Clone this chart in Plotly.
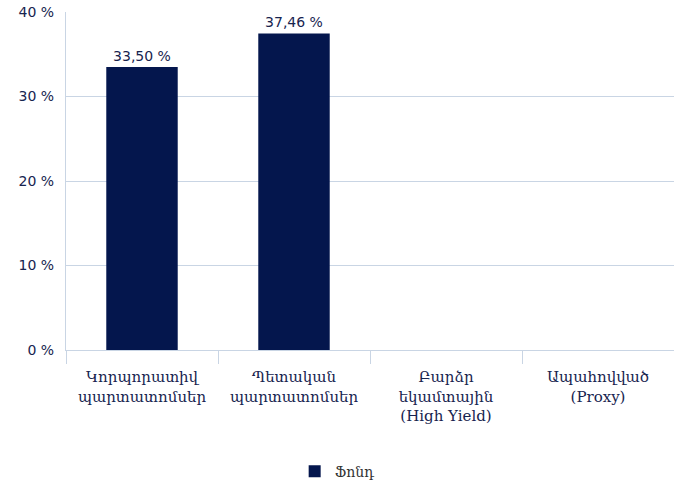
import plotly.graph_objects as go

categories = ["Կորպորատիվ<br>պարտատոմսեր", "Պետական<br>պարտատոմսեր",
              "Բարձր<br>եկամտային<br>(High Yield)", "Ապահովված<br>(Proxy)"]
values = [33.50, 37.46, None, None]
series_name = "Ֆոնդ"
y_ticks = [0, 10, 20, 30, 40]
y_tick_labels = ["0 %", "10 %", "20 %", "30 %", "40 %"]

labels = [("%.2f %%" % v).replace(".", ",") if v is not None else "" for v in values]

navy = "#04164d"
grid = "#c9d5e4"
txt = "#17244f"

fig = go.Figure()
fig.add_trace(go.Bar(
    x=categories, y=values, name=series_name,
    marker=dict(color=navy, line=dict(width=0)),
    width=0.47,
    text=labels, textposition="outside", cliponaxis=False,
    textfont=dict(family="DejaVu Sans", size=14, color=txt),
))
fig.update_layout(
    width=674, height=488,
    margin=dict(l=66, r=0, t=12, b=133),
    paper_bgcolor="white", plot_bgcolor="white",
    showlegend=True,
    legend=dict(orientation="h", x=0.446, xanchor="center", y=-0.36, yanchor="middle",
                font=dict(family="DejaVu Serif", size=14, color="#333333")),
    xaxis=dict(
        automargin=False,
        tickson="boundaries", ticks="outside", ticklen=13, tickcolor=grid, tickwidth=1,
        showline=True, linecolor=grid, linewidth=1,
        showgrid=False,
        ticklabelstandoff=13,
        tickfont=dict(family="DejaVu Serif", size=15, color=txt),
    ),
    yaxis=dict(
        automargin=False,
        range=[0, 40], tickvals=y_ticks, ticktext=y_tick_labels,
        showgrid=True, gridcolor=grid, gridwidth=1,
        showline=True, linecolor=grid, linewidth=1,
        zeroline=False,
        tickfont=dict(family="DejaVu Sans", size=14, color=txt),
        ticks="", ticklen=0, ticklabelstandoff=8,
    ),
    bargap=0.53,
)
fig.write_html("out.html", config={"displayModeBar": False},
               post_script="document.body.style.margin='0';document.body.style.overflow='hidden';")
